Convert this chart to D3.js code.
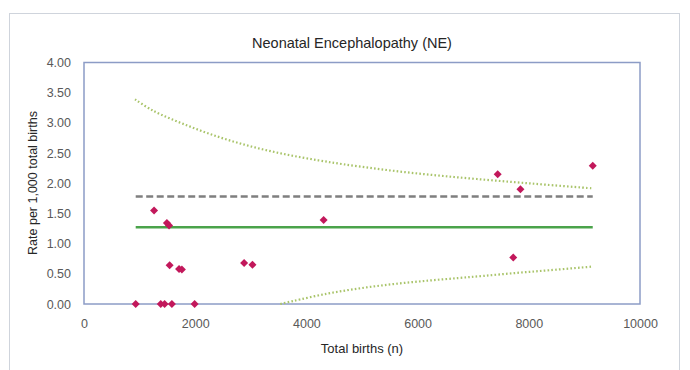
<!DOCTYPE html>
<html><head><meta charset="utf-8">
<script src="https://cdn.jsdelivr.net/npm/d3@7"></script>
<style>body{margin:0;background:#fff}svg{display:block}text{font-family:"Liberation Sans",Arial,sans-serif}</style>
</head><body><svg id="c" width="690" height="370"></svg>
<script>
const title = "Neonatal Encephalopathy (NE)";
const xTicks = [0, 2000, 4000, 6000, 8000, 10000];
const yTicks = [0, 0.5, 1, 1.5, 2, 2.5, 3, 3.5, 4];
const birthsN = [930, 1260, 1490, 1530, 1540, 1710, 1760, 1380, 1450, 1580, 1990, 2880, 3030, 4310, 7440, 7850, 9150, 7720];
const rates   = [0, 1.55, 1.34, 1.30, 0.64, 0.58, 0.57, 0, 0, 0, 0, 0.68, 0.65, 1.39, 2.15, 1.90, 2.29, 0.77];
const meanRate = 1.27;
const meanRange = [930, 9150];
const targetRate = 1.78;
const upperX = [917, 1246, 1847, 2446, 3045, 3645, 4214, 4664, 5264, 5863, 6462, 7063, 7721, 8322, 9150];
const upperY = [3.39, 3.20, 2.96, 2.76, 2.60, 2.475, 2.38, 2.315, 2.24, 2.175, 2.12, 2.07, 2.02, 1.975, 1.915];
const lowerX = [3530, 3765, 4365, 4964, 5563, 6164, 6734, 7182, 7782, 8381, 9150];
const lowerY = [0, 0.05, 0.17, 0.26, 0.33, 0.385, 0.43, 0.465, 0.515, 0.56, 0.62];

const svg = d3.select("#c");
svg.append("rect").attr("x", 9.5).attr("y", 13.5).attr("width", 670).attr("height", 370).attr("fill", "none").attr("stroke", "#cfd4dc");

const x = d3.scaleLinear().domain([0, 10000]).range([84, 640]);
const y = d3.scaleLinear().domain([0, 4]).range([304, 62.5]);

svg.append("rect").attr("x", x(0)).attr("y", y(4)).attr("width", x(10000) - x(0)).attr("height", y(0) - y(4))
  .attr("fill", "none").attr("stroke", "#8c9cc6").attr("stroke-width", 1.5);

svg.append("text").attr("x", 352).attr("y", 48).attr("text-anchor", "middle").attr("font-size", 14.5).attr("fill", "#262626").text(title);

const xa = svg.append("g").attr("transform", `translate(0,${y(0)})`)
  .call(d3.axisBottom(x).tickValues(xTicks).tickFormat(d3.format("d")).tickSize(0).tickPadding(15));
const ya = svg.append("g").attr("transform", `translate(${x(0)},0)`)
  .call(d3.axisLeft(y).tickValues(yTicks).tickFormat(d3.format(".2f")).tickSize(0).tickPadding(13));
[xa, ya].forEach(a => { a.select(".domain").remove(); a.selectAll("text").attr("font-size", 12.5).attr("fill", "#595959").attr("font-family", "Liberation Sans, Arial, sans-serif"); });

svg.append("text").attr("x", 362).attr("y", 353).attr("text-anchor", "middle").attr("font-size", 13).attr("fill", "#262626").text("Total births (n)");
svg.append("text").attr("transform", "translate(37,183) rotate(-90)").attr("text-anchor", "middle").attr("font-size", 12.5).attr("fill", "#262626").text("Rate per 1,000 total births");

const line = d3.line().x(d => x(d[0])).y(d => y(d[1])).curve(d3.curveCatmullRom);
svg.append("path").datum(upperX.map((v, i) => [v, upperY[i]])).attr("d", line)
  .attr("fill", "none").attr("stroke", "#a9c46a").attr("stroke-width", 2.2).attr("stroke-dasharray", "1.6 2.2");
svg.append("path").datum(lowerX.map((v, i) => [v, lowerY[i]])).attr("d", line)
  .attr("fill", "none").attr("stroke", "#a9c46a").attr("stroke-width", 2.2).attr("stroke-dasharray", "1.6 2.2");

svg.append("line").attr("x1", x(meanRange[0])).attr("x2", x(meanRange[1])).attr("y1", y(targetRate)).attr("y2", y(targetRate))
  .attr("stroke", "#7f7f7f").attr("stroke-width", 2.5).attr("stroke-dasharray", "7 3.5");
svg.append("line").attr("x1", x(meanRange[0])).attr("x2", x(meanRange[1])).attr("y1", y(meanRate)).attr("y2", y(meanRate))
  .attr("stroke", "#4aa34a").attr("stroke-width", 2.5);

const r = 4;
svg.append("g").selectAll("path").data(birthsN.map((v, i) => [v, rates[i]])).join("path")
  .attr("d", `M0,${-r}L${r},0L0,${r}L${-r},0Z`).attr("transform", d => `translate(${x(d[0])},${y(d[1])})`).attr("fill", "#c2185b");
</script></body></html>
